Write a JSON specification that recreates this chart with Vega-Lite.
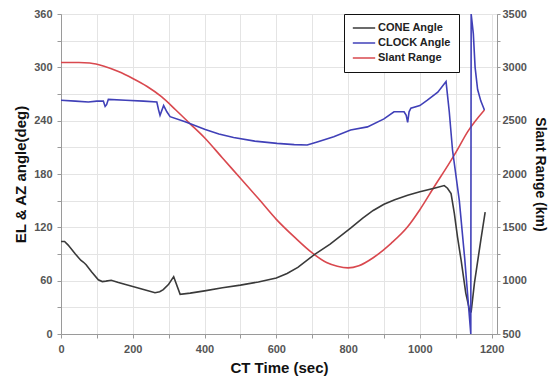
{
  "$schema": "https://vega.github.io/schema/vega-lite/v6.json",
  "autosize": {"type": "none"},
  "padding": {"left": 61, "top": 14, "right": 58, "bottom": 49},
  "width": 436,
  "height": 320,
  "background": "white",
  "config": {
    "view": {"stroke": "#9a9a9a", "strokeWidth": 1},
    "font": "Liberation Sans",
    "axis": {
      "labelFont": "Liberation Sans",
      "labelFontWeight": "bold",
      "labelFontSize": 11,
      "labelColor": "#555555",
      "titleFont": "Liberation Sans",
      "titleFontWeight": "bold",
      "titleColor": "#111111",
      "domainColor": "#9a9a9a",
      "tickColor": "#9a9a9a",
      "gridColor": "#e4e4e4",
      "tickSize": 4,
      "labelPadding": 5
    },
    "legend": {
      "labelFont": "Liberation Sans",
      "labelFontWeight": "bold",
      "labelFontSize": 11,
      "labelColor": "#222222"
    }
  },
  "datasets": {
    "angles": [
      {"t": 0, "v": 104, "s": "CONE Angle"}, {"t": 10, "v": 104, "s": "CONE Angle"}, {"t": 20, "v": 100, "s": "CONE Angle"},
      {"t": 40, "v": 90, "s": "CONE Angle"}, {"t": 55, "v": 83, "s": "CONE Angle"}, {"t": 62, "v": 81, "s": "CONE Angle"},
      {"t": 70, "v": 78, "s": "CONE Angle"}, {"t": 85, "v": 70, "s": "CONE Angle"}, {"t": 104, "v": 61, "s": "CONE Angle"},
      {"t": 115, "v": 59, "s": "CONE Angle"}, {"t": 125, "v": 59.5, "s": "CONE Angle"}, {"t": 140, "v": 60.5, "s": "CONE Angle"},
      {"t": 160, "v": 58, "s": "CONE Angle"}, {"t": 200, "v": 53.5, "s": "CONE Angle"}, {"t": 240, "v": 49, "s": "CONE Angle"},
      {"t": 262, "v": 46.5, "s": "CONE Angle"}, {"t": 275, "v": 47.5, "s": "CONE Angle"}, {"t": 285, "v": 50, "s": "CONE Angle"},
      {"t": 300, "v": 56, "s": "CONE Angle"}, {"t": 314, "v": 64.5, "s": "CONE Angle"}, {"t": 332, "v": 44.6, "s": "CONE Angle"},
      {"t": 360, "v": 46, "s": "CONE Angle"}, {"t": 400, "v": 48.5, "s": "CONE Angle"}, {"t": 450, "v": 52, "s": "CONE Angle"},
      {"t": 500, "v": 55, "s": "CONE Angle"}, {"t": 550, "v": 58.5, "s": "CONE Angle"}, {"t": 600, "v": 63, "s": "CONE Angle"},
      {"t": 630, "v": 68, "s": "CONE Angle"}, {"t": 660, "v": 75, "s": "CONE Angle"}, {"t": 705, "v": 89, "s": "CONE Angle"},
      {"t": 750, "v": 101, "s": "CONE Angle"}, {"t": 807, "v": 119, "s": "CONE Angle"}, {"t": 840, "v": 130, "s": "CONE Angle"},
      {"t": 870, "v": 139, "s": "CONE Angle"}, {"t": 900, "v": 146, "s": "CONE Angle"}, {"t": 930, "v": 151, "s": "CONE Angle"},
      {"t": 966, "v": 156, "s": "CONE Angle"}, {"t": 1000, "v": 160, "s": "CONE Angle"}, {"t": 1040, "v": 164, "s": "CONE Angle"},
      {"t": 1068, "v": 167, "s": "CONE Angle"}, {"t": 1077, "v": 164, "s": "CONE Angle"}, {"t": 1087, "v": 158, "s": "CONE Angle"},
      {"t": 1096, "v": 136, "s": "CONE Angle"}, {"t": 1105, "v": 109, "s": "CONE Angle"}, {"t": 1115, "v": 83, "s": "CONE Angle"},
      {"t": 1128, "v": 46, "s": "CONE Angle"}, {"t": 1140, "v": 24, "s": "CONE Angle"}, {"t": 1143, "v": 25, "s": "CONE Angle"},
      {"t": 1152, "v": 57, "s": "CONE Angle"}, {"t": 1170, "v": 106, "s": "CONE Angle"}, {"t": 1182, "v": 137, "s": "CONE Angle"},
      {"t": 0, "v": 263, "s": "CLOCK Angle"}, {"t": 40, "v": 262, "s": "CLOCK Angle"}, {"t": 76, "v": 261, "s": "CLOCK Angle"},
      {"t": 100, "v": 262, "s": "CLOCK Angle"}, {"t": 118, "v": 262, "s": "CLOCK Angle"}, {"t": 123, "v": 256, "s": "CLOCK Angle"},
      {"t": 127, "v": 258, "s": "CLOCK Angle"}, {"t": 132, "v": 264, "s": "CLOCK Angle"}, {"t": 180, "v": 263, "s": "CLOCK Angle"},
      {"t": 230, "v": 262, "s": "CLOCK Angle"}, {"t": 267, "v": 261, "s": "CLOCK Angle"}, {"t": 272, "v": 252, "s": "CLOCK Angle"},
      {"t": 276, "v": 246, "s": "CLOCK Angle"}, {"t": 286, "v": 257, "s": "CLOCK Angle"}, {"t": 295, "v": 250, "s": "CLOCK Angle"},
      {"t": 304, "v": 244.5, "s": "CLOCK Angle"}, {"t": 346, "v": 238.8, "s": "CLOCK Angle"}, {"t": 402, "v": 230, "s": "CLOCK Angle"},
      {"t": 440, "v": 225, "s": "CLOCK Angle"}, {"t": 481, "v": 221, "s": "CLOCK Angle"}, {"t": 540, "v": 217, "s": "CLOCK Angle"},
      {"t": 602, "v": 214.5, "s": "CLOCK Angle"}, {"t": 650, "v": 213, "s": "CLOCK Angle"}, {"t": 686, "v": 212.6, "s": "CLOCK Angle"},
      {"t": 714, "v": 216, "s": "CLOCK Angle"}, {"t": 760, "v": 222, "s": "CLOCK Angle"}, {"t": 807, "v": 229.5, "s": "CLOCK Angle"},
      {"t": 854, "v": 233, "s": "CLOCK Angle"}, {"t": 900, "v": 242, "s": "CLOCK Angle"}, {"t": 928, "v": 250, "s": "CLOCK Angle"},
      {"t": 956, "v": 250, "s": "CLOCK Angle"}, {"t": 962, "v": 246, "s": "CLOCK Angle"}, {"t": 966, "v": 238, "s": "CLOCK Angle"},
      {"t": 970, "v": 250, "s": "CLOCK Angle"}, {"t": 975, "v": 254, "s": "CLOCK Angle"}, {"t": 1000, "v": 257, "s": "CLOCK Angle"},
      {"t": 1021, "v": 263, "s": "CLOCK Angle"}, {"t": 1050, "v": 272, "s": "CLOCK Angle"}, {"t": 1073, "v": 284, "s": "CLOCK Angle"},
      {"t": 1082, "v": 250, "s": "CLOCK Angle"}, {"t": 1091, "v": 207, "s": "CLOCK Angle"}, {"t": 1110, "v": 150, "s": "CLOCK Angle"},
      {"t": 1125, "v": 85, "s": "CLOCK Angle"}, {"t": 1142, "v": 0, "s": "CLOCK Angle"}, {"t": 1143, "v": 360, "s": "CLOCK Angle"},
      {"t": 1149, "v": 338, "s": "CLOCK Angle"}, {"t": 1154, "v": 300, "s": "CLOCK Angle"}, {"t": 1161, "v": 275, "s": "CLOCK Angle"},
      {"t": 1170, "v": 262, "s": "CLOCK Angle"}, {"t": 1180, "v": 252, "s": "CLOCK Angle"}
    ],
    "range": [
      {"t": 0, "r": 3045, "s": "Slant Range"}, {"t": 50, "r": 3045, "s": "Slant Range"}, {"t": 80, "r": 3040, "s": "Slant Range"},
      {"t": 120, "r": 3010, "s": "Slant Range"}, {"t": 160, "r": 2960, "s": "Slant Range"}, {"t": 200, "r": 2895, "s": "Slant Range"},
      {"t": 240, "r": 2820, "s": "Slant Range"}, {"t": 280, "r": 2725, "s": "Slant Range"}, {"t": 320, "r": 2600, "s": "Slant Range"},
      {"t": 360, "r": 2470, "s": "Slant Range"}, {"t": 400, "r": 2340, "s": "Slant Range"}, {"t": 450, "r": 2150, "s": "Slant Range"},
      {"t": 500, "r": 1960, "s": "Slant Range"}, {"t": 550, "r": 1770, "s": "Slant Range"}, {"t": 600, "r": 1575, "s": "Slant Range"},
      {"t": 650, "r": 1410, "s": "Slant Range"}, {"t": 700, "r": 1260, "s": "Slant Range"}, {"t": 740, "r": 1170, "s": "Slant Range"},
      {"t": 770, "r": 1135, "s": "Slant Range"}, {"t": 800, "r": 1120, "s": "Slant Range"}, {"t": 830, "r": 1140, "s": "Slant Range"},
      {"t": 870, "r": 1215, "s": "Slant Range"}, {"t": 920, "r": 1350, "s": "Slant Range"}, {"t": 966, "r": 1505, "s": "Slant Range"},
      {"t": 1000, "r": 1665, "s": "Slant Range"}, {"t": 1040, "r": 1880, "s": "Slant Range"}, {"t": 1080, "r": 2090, "s": "Slant Range"},
      {"t": 1100, "r": 2200, "s": "Slant Range"}, {"t": 1133, "r": 2395, "s": "Slant Range"}, {"t": 1180, "r": 2600, "s": "Slant Range"}
    ]
  },
  "encoding": {
    "x": {
      "field": "t", "type": "quantitative",
      "scale": {"domain": [0, 1215], "nice": false, "zero": false},
      "axis": {
        "title": "CT Time (sec)", "titleFontSize": 15, "titlePadding": 6,
        "values": [0, 100, 200, 300, 400, 500, 600, 700, 800, 900, 1000, 1100, 1200],
        "format": "d",
        "labelExpr": "datum.value % 200 === 0 ? datum.label : ''",
        "labelFlush": false, "grid": true
      }
    },
    "color": {
      "field": "s", "type": "nominal",
      "scale": {"domain": ["CONE Angle", "CLOCK Angle", "Slant Range"], "range": ["#3a3a3a", "#4040b8", "#d9484e"]},
      "legend": {
        "title": null, "orient": "none", "legendX": 283, "legendY": 0,
        "symbolType": "stroke", "symbolSize": 500, "symbolStrokeWidth": 1.6,
        "clipHeight": 12, "rowPadding": 3, "labelOffset": 2,
        "strokeColor": "#111111", "fillColor": "white", "padding": 8
      }
    }
  },
  "layer": [
    {
      "data": {"name": "range"},
      "mark": {"type": "line", "strokeWidth": 1.6, "interpolate": "monotone"},
      "encoding": {
        "y": {
          "field": "r", "type": "quantitative",
          "scale": {"domain": [500, 3500], "nice": false, "zero": false},
          "axis": {
            "orient": "right", "title": "Slant Range (km)", "titleFontSize": 14, "titlePadding": 6,
            "values": [500, 750, 1000, 1250, 1500, 1750, 2000, 2250, 2500, 2750, 3000, 3250, 3500],
            "labelExpr": "datum.value % 500 === 0 ? datum.label : ''",
            "format": "d", "grid": false, "tickSize": 3, "labelPadding": 2
          }
        }
      }
    },
    {
      "data": {"name": "angles"},
      "mark": {"type": "line", "strokeWidth": 1.6},
      "encoding": {
        "y": {
          "field": "v", "type": "quantitative",
          "scale": {"domain": [0, 360], "nice": false},
          "axis": {
            "orient": "left", "title": "EL & AZ angle(deg)", "titleFontSize": 15, "titlePadding": 5,
            "values": [0, 30, 60, 90, 120, 150, 180, 210, 240, 270, 300, 330, 360],
            "labelExpr": "datum.value % 60 === 0 ? datum.label : ''",
            "grid": true
          }
        }
      }
    }
  ],
  "resolve": {"scale": {"y": "independent"}}
}
